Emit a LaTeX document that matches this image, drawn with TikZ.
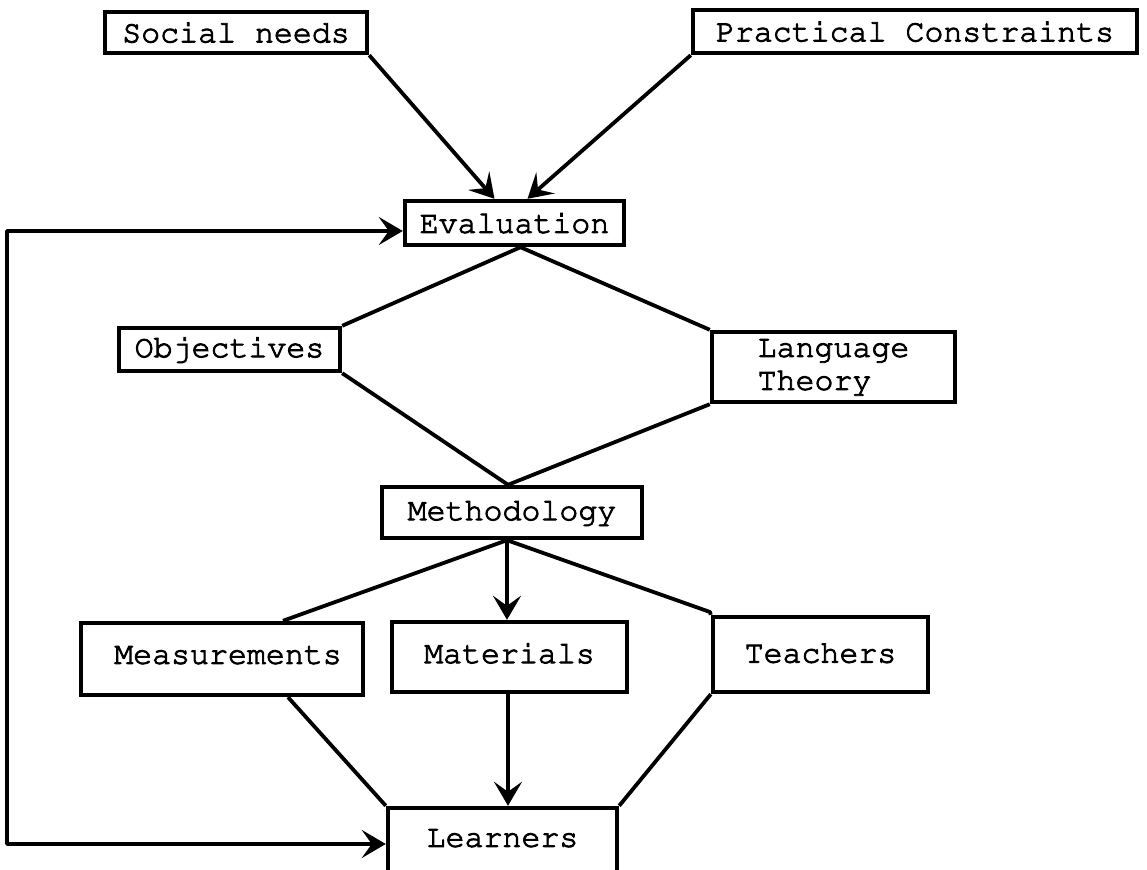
\documentclass[tikz,border=0pt]{standalone}
\usetikzlibrary{arrows.meta,calc}
\newcommand{\typefont}{\usefont{T1}{pcr}{m}{n}\fontsize{15.8}{16.5}\selectfont}
\newcommand{\heavy}[1]{\special{pdf:literal direct 2 Tr 0.45 w}#1\special{pdf:literal direct 0 Tr}}
\begin{document}
\begin{tikzpicture}[x=0.5pt,y=-0.5pt,
  box/.style={draw, line width=2.2pt, inner sep=0pt, font=\typefont},
  conn/.style={line width=1.9pt, line join=round},
  tip/.tip={Stealth[length=12pt,width=14pt,inset=5pt]},
  arr/.style={conn, -tip},
  dblarr/.style={conn, tip-tip}]
\fill[white] (0,0) rectangle (1147,870);
\useasboundingbox (0,0) rectangle (1147,870);

\node[box, minimum width=131pt, minimum height=20.5pt] (soc) at (236,32.5) {\heavy{Social needs}};
\node[box, minimum width=222pt, minimum height=21.5pt] (pc) at (915,31.5) {\heavy{Practical Constraints}};
\node[box, minimum width=109.5pt, minimum height=22pt] (eval) at (514.5,223) {\heavy{Evaluation}};
\node[box, minimum width=110.5pt, minimum height=21.5pt] (obj) at (229.5,349.5) {\heavy{Objectives}};
\node[box, minimum width=121.5pt, minimum height=35pt, align=left] (lt) at (833.5,367) {\heavy{Language}\\\heavy{Theory}};
\node[box, minimum width=130pt, minimum height=25.5pt] (meth) at (512,512.5) {\heavy{Methodology}};
\node[box, minimum width=141pt, minimum height=36pt, text depth=4pt] (meas) at (222,659) {\hspace*{6pt}\heavy{Measurements}};
\node[box, minimum width=117.5pt, minimum height=35pt, text depth=4pt] (mat) at (509.5,657) {\heavy{Materials}};
\node[box, minimum width=107.5pt, minimum height=37.5pt, text depth=2pt] (teach) at (820.5,654.5) {\heavy{Teachers}};
\node[box, minimum width=114.5pt, minimum height=34pt, text depth=4pt] (learn) at (502.5,842) {\heavy{Learners}};

\coordinate (fb1) at (7,231);
\coordinate (fb2) at (7,844);
\coordinate (tbend) at (710,612);

% inputs to Evaluation
\draw[arr] (soc.south east) -- ($(eval.north)+(-20,0)$);
\draw[arr] (pc.south west) -- ($(eval.north)+(13,0)$);

% Evaluation to Objectives / Language Theory
\draw[conn] ($(eval.south)+(6,0)$) -- (obj.north east);
\draw[conn] ($(eval.south)+(6,0)$) -- (lt.north west);

% to Methodology
\draw[conn] (obj.south east) -- ($(meth.north)+(-4,0)$);
\draw[conn] (lt.south west) -- ($(meth.north)+(-4,0)$);

% Methodology to the three boxes
\draw[conn] ($(meth.south)+(-5,0)$) -- ($(meas.north)+(61,0)$);
\draw[arr] ($(meth.south)+(-5,0)$) -- ($(mat.north)+(-2.5,0)$);
\draw[conn] ($(meth.south)+(-5,0)$) -- (tbend) -- (teach.north west);

% to Learners
\draw[conn] ($(meas.south)+(66,0)$) -- (learn.north west);
\draw[arr] ($(mat.south)+(-1.5,0)$) -- ($(learn.north)+(5.5,0)$);
\draw[conn] (teach.south west) -- (learn.north east);

% feedback loop
\draw[dblarr] (learn.west |- fb2) -- (fb2) -- (fb1) -- (eval.west |- fb1);
\end{tikzpicture}
\end{document}
